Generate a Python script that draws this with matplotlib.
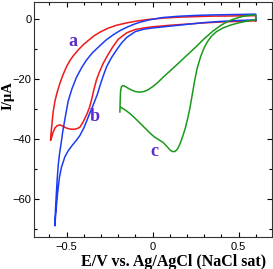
import matplotlib
matplotlib.use("Agg")
import matplotlib.pyplot as plt
from matplotlib.ticker import MultipleLocator

# curve a (red): forward sweep 0.6 -> -0.6
red_fwd_E = [0.6, 0.5, 0.4, 0.3, 0.2, 0.1, 0.0, -0.05, -0.1, -0.15, -0.2,
             -0.23, -0.26, -0.287, -0.31, -0.326, -0.34, -0.355, -0.365,
             -0.38, -0.393, -0.41, -0.423, -0.44, -0.46, -0.48, -0.5, -0.52,
             -0.539, -0.555, -0.568, -0.58, -0.587, -0.593]
red_fwd_I = [-0.6, -0.8, -1.0, -1.3, -1.7, -2.1, -2.6, -3.0, -3.5, -4.6, -6.8,
             -9.2, -12.0, -14.8, -17.8, -20.3, -23.3, -27.0, -29.2,
             -31.5, -33.1, -35.0, -36.1, -36.6, -36.8, -36.7, -36.4, -35.8,
             -35.3, -35.6, -36.4, -38.0, -39.6, -40.5]
# reverse sweep back to 0.6
red_rev_E = [-0.593, -0.59, -0.585, -0.578, -0.568, -0.555, -0.539, -0.52,
             -0.5, -0.48, -0.46, -0.43, -0.403, -0.37, -0.34, -0.306, -0.26,
             -0.21, -0.15, -0.093, -0.03, 0.062, 0.15, 0.256, 0.35, 0.45,
             0.6, 0.6]
red_rev_I = [-40.5, -38.0, -35.0, -31.0, -27.5, -24.5, -21.5, -18.5,
             -15.9, -13.8, -12.2, -10.2, -8.6, -7.0, -5.6, -4.4, -3.1,
             -2.1, -1.3, -0.7, -0.2, 0.3, 0.6, 0.8, 0.95, 1.0,
             1.1, -0.6]

# curve b (blue)
blue_fwd_E = [0.6, 0.5, 0.4, 0.3, 0.2, 0.1, 0.0, -0.05, -0.1, -0.151, -0.18,
              -0.209, -0.24, -0.267, -0.29, -0.306, -0.32, -0.335, -0.35,
              -0.365, -0.38, -0.4, -0.423, -0.442, -0.465, -0.49, -0.51,
              -0.53, -0.542, -0.552, -0.56, -0.565, -0.568]
blue_fwd_I = [-0.3, -0.5, -0.8, -1.2, -1.8, -2.4, -3.0, -3.4, -4.2, -6.2, -8.0,
              -10.3, -13.0, -15.9, -19.5, -22.3, -25.0, -27.2, -29.4,
              -31.4, -33.6, -36.4, -38.9, -40.4, -42.0, -43.9, -46.0,
              -49.5, -53.0, -58.0, -63.0, -66.5, -69.0]
blue_rev_E = [-0.568, -0.564, -0.559, -0.554, -0.548, -0.541, -0.533, -0.522,
              -0.51, -0.491, -0.47, -0.442, -0.41, -0.384, -0.35, -0.306,
              -0.27, -0.229, -0.19, -0.151, -0.11, -0.074, -0.02, 0.062,
              0.15, 0.256, 0.35, 0.45, 0.6, 0.6]
blue_rev_I = [-69.0, -63.0, -58.0, -53.0, -48.5, -45.0, -42.0, -37.5,
              -33.5, -27.5, -23.5, -19.4, -16.0, -13.7, -11.3, -8.9,
              -7.0, -5.3, -3.9, -2.8, -1.8, -1.1, -0.3, 0.5,
              0.9, 1.2, 1.35, 1.45, 1.6, -0.3]

# curve c (green)
green_lo_E = [-0.183, -0.16, -0.13, -0.1, -0.07, -0.04, -0.016, 0.01, 0.04,
              0.062, 0.085, 0.1, 0.115, 0.13, 0.145, 0.16, 0.175, 0.19,
              0.205, 0.218, 0.23, 0.245, 0.26, 0.28, 0.3, 0.32, 0.345,
              0.372, 0.41, 0.45, 0.5, 0.55, 0.6]
green_lo_I = [-29.5, -30.3, -31.6, -33.2, -34.9, -36.6, -38.0, -39.3, -40.4,
              -41.2, -42.6, -43.6, -44.2, -44.2, -43.4, -41.6, -39.2, -36.5,
              -33.0, -29.5, -25.5, -20.5, -16.3, -12.5, -9.6, -7.5, -5.6,
              -4.2, -3.0, -2.1, -1.3, -0.7, -0.3]
green_up_E = [0.6, 0.56, 0.527, 0.49, 0.45, 0.4, 0.352, 0.3, 0.256, 0.2,
              0.159, 0.11, 0.062, 0.03, 0.0, -0.026, -0.05, -0.075, -0.1,
              -0.122, -0.145, -0.162, -0.173, -0.181, -0.186, -0.188, -0.19]
green_up_I = [1.3, 1.2, 0.9, 0.3, -0.5, -2.0, -4.0, -6.6, -9.1, -12.1,
              -14.3, -16.9, -19.4, -21.2, -22.6, -23.6, -24.2, -24.4, -24.2,
              -23.7, -23.0, -22.4, -22.2, -22.6, -24.0, -27.0, -31.0]

labels = ["a", "b", "c"]
label_E = [-0.462, -0.335, 0.013]
label_I = [-7.6, -32.6, -44.2]

fig = plt.figure(figsize=(2.73, 2.69), dpi=100)
ax = fig.add_axes([0.126, 0.119, 0.87, 0.874])

lw = 1.1
ax.plot(red_fwd_E + red_rev_E, red_fwd_I + red_rev_I, color="#f01818", lw=lw)
ax.plot(blue_fwd_E + blue_rev_E, blue_fwd_I + blue_rev_I, color="#1a3cf5", lw=lw)
ax.plot(green_lo_E + green_up_E, green_lo_I + green_up_I, color="#1a9a1a", lw=lw)

for t, x, y in zip(labels, label_E, label_I):
    ax.text(x, y, t, color="#5b2bd0", fontsize=13, fontweight="bold",
            family="Liberation Serif", ha="center", va="center")

ax.set_xlim(-0.687, 0.694)
ax.set_ylim(-72.7, 5.7)
ax.xaxis.set_major_locator(MultipleLocator(0.5))
ax.xaxis.set_minor_locator(MultipleLocator(0.1))
ax.yaxis.set_major_locator(MultipleLocator(20))
ax.yaxis.set_minor_locator(MultipleLocator(10))
ax.set_xticks([-0.5, 0, 0.5])
ax.set_xticklabels(["\u22120.5", "0", "0.5"])
ax.set_yticks([-60, -40, -20, 0])
ax.set_yticklabels(["\u221260", "\u221240", "\u221220", "0"])

ax.tick_params(which="both", direction="in", top=True, right=True,
               width=0.8, labelsize=8)
ax.tick_params(which="major", length=3.5)
ax.tick_params(which="minor", length=2)
ax.tick_params(axis="x", pad=3.5)
ax.tick_params(axis="y", pad=2)
for lab in ax.get_xticklabels() + ax.get_yticklabels():
    lab.set_family("Liberation Sans")
for s in ax.spines.values():
    s.set_linewidth(0.8)
    s.set_color("#333333")

ax.set_xlabel("E/V vs. Ag/AgCl (NaCl sat)", family="Liberation Serif",
              fontweight="bold", fontsize=11.5)
ax.set_ylabel("I/\u00b5A", family="Liberation Serif", fontweight="bold",
              fontsize=10.5)
ax.xaxis.set_label_coords(0.585, -0.072)
ax.yaxis.set_label_coords(-0.083, 0.6)

fig.savefig("out.png", dpi=100)
